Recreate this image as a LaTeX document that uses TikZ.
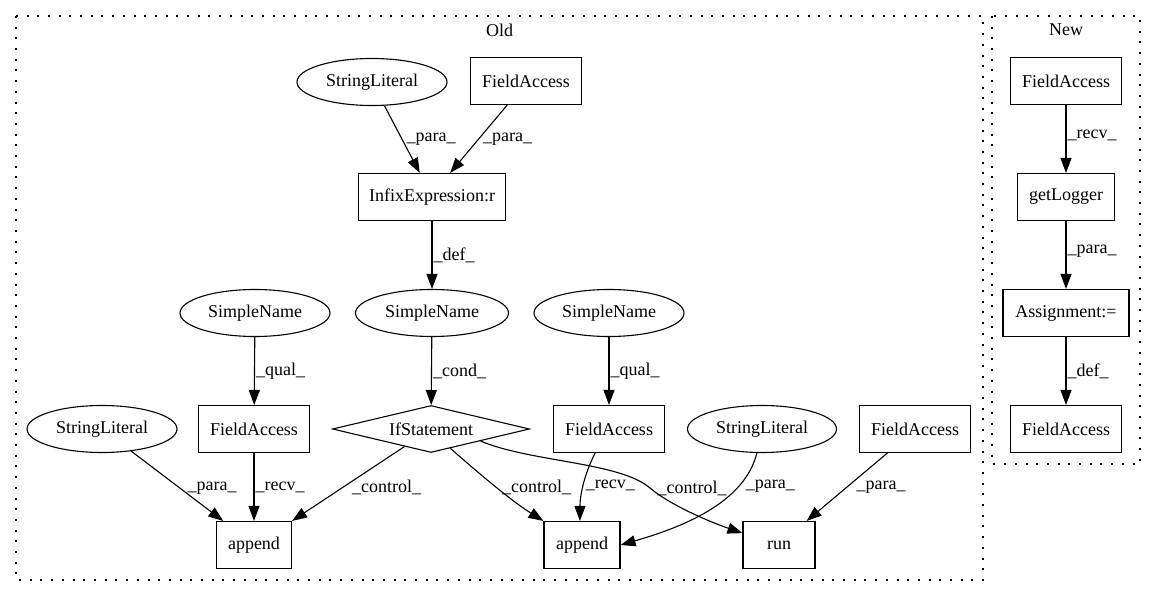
\documentclass[tikz,border=0pt]{standalone}
\usepackage{fontspec}
\setmainfont{Liberation Serif}
\usetikzlibrary{arrows.meta,shapes.geometric}
\tikzset{
	every node/.style={font=\fontsize{18}{20}\selectfont},
	box/.style={draw, line width=1.1pt, rectangle, inner sep=0pt, minimum height=47pt},
	oval/.style={draw, line width=1.1pt, ellipse, inner sep=0pt, minimum width=150pt, minimum height=47pt},
	cond/.style={draw, line width=1.1pt, diamond, aspect=4.2, inner sep=0pt, minimum width=197pt, minimum height=47pt},
	flow/.style={line width=1.1pt, -{Triangle[length=15pt,width=11pt]}},
	lbl/.style={inner sep=1pt},
	cluster/.style={line width=1.2pt, dash pattern=on 2pt off 8.7pt},
}

\begin{document}
\begin{tikzpicture}[x=1pt,y=-1pt]
		\useasboundingbox (0,0) rectangle (1156,596);
		%%%%% CLUSTERS %%%%%
		
		\draw[cluster] (16,16) rectangle (983,580);
		\node (old) at (499.5,30) {Old};
		\draw[cluster] (992,16) rectangle (1140,464);
		\node (new) at (1066,30) {New};
		
		%%%%% OLD %%%%%
		
		\node[oval] (slt) at (372,82) {StringLiteral};
		\node[box, minimum width=111pt] (fat) at (526,81) {FieldAccess};
		\node[box, minimum width=147pt] (inf) at (432,197) {InfixExpression:r};
		
		\node[oval] (snl) at (255,313) {SimpleName};
		\node[oval, minimum width=153pt] (snm) at (432,313) {SimpleName};
		\node[oval] (snr) at (609,313) {SimpleName};
		
		\node[oval] (sll) at (102,429) {StringLiteral};
		\node[box, minimum width=111pt] (fal) at (254,429) {FieldAccess};
		\node[cond] (ifs) at (431,429) {IfStatement};
		\node[box, minimum width=111pt] (fam) at (609,429) {FieldAccess};
		\node[oval, minimum width=149pt] (slr) at (762,429) {StringLiteral};
		\node[box, minimum width=111pt] (far) at (915,429) {FieldAccess};
		
		\node[box, minimum width=75pt] (apl) at (254,545) {append};
		\node[box, minimum width=76pt] (apm) at (582,545) {append};
		\node[box, minimum width=72pt] (run) at (779,545) {run};
		
		\draw[flow] (slt) -- (inf.117) node[lbl, midway, right=3pt] {\_para\_};
		\draw[flow] (fat.-128) -- (inf.53) node[lbl, midway, right=3pt] {\_para\_};
		\draw[flow] (inf) -- (snm) node[lbl, midway, right] {\_def\_};
		
		\draw[flow] (snl) -- (fal) node[lbl, midway, right] {\_qual\_};
		\draw[flow] (snm) -- (ifs) node[lbl, midway, right] {\_cond\_};
		\draw[flow] (snr) -- (fam) node[lbl, midway, right] {\_qual\_};
		
		\draw[flow] (sll) -- (apl.142) node[lbl, pos=0.53, right=6pt] {\_para\_};
		\draw[flow] (fal) -- (apl) node[lbl, midway, right] {\_recv\_};
		\draw[flow] (ifs) -- (apl.north east) node[lbl, pos=0.55, right=8pt] {\_control\_};
		\draw[flow] (ifs.-45) .. controls (475,470) and (510,500) .. (apm.north west) node[lbl, pos=0.53, right=4pt] {\_control\_};
		\draw[flow] (fam.-120) .. controls (584,475) and (580,495) .. (apm.95) node[lbl, pos=0.5, right=1pt] {\_recv\_};
		\draw[flow] (ifs.south east) .. controls (530,462) and (620,462) .. (650,488) node[lbl, right=6pt] {\_control\_} .. controls (670,505) and (710,522) .. (run.162);
		\draw[flow] (slr.-102) .. controls (745,500) and (690,525) .. (apm.east) node[lbl, pos=0.27, right=6pt] {\_para\_};
		\draw[flow] (far.-139) -- (run.41) node[lbl, pos=0.5, right=8pt] {\_para\_};
		
		%%%%% NEW %%%%%
		
		\node[box, minimum width=111pt] (nfa) at (1066,81) {FieldAccess};
		\node[box, minimum width=97pt] (glg) at (1066,197) {getLogger};
		\node[box, minimum width=126pt] (asg) at (1066,313) {Assignment:=};
		\node[box, minimum width=111pt] (nfb) at (1066,429) {FieldAccess};
		
		\draw[flow] (nfa) -- (glg) node[lbl, pos=0.45, right] {\_recv\_};
		\draw[flow] (glg) -- (asg) node[lbl, pos=0.45, right] {\_para\_};
		\draw[flow] (asg) -- (nfb) node[lbl, midway, right] {\_def\_};
		
		%%%%% END %%%%%
\end{tikzpicture}
\end{document}
